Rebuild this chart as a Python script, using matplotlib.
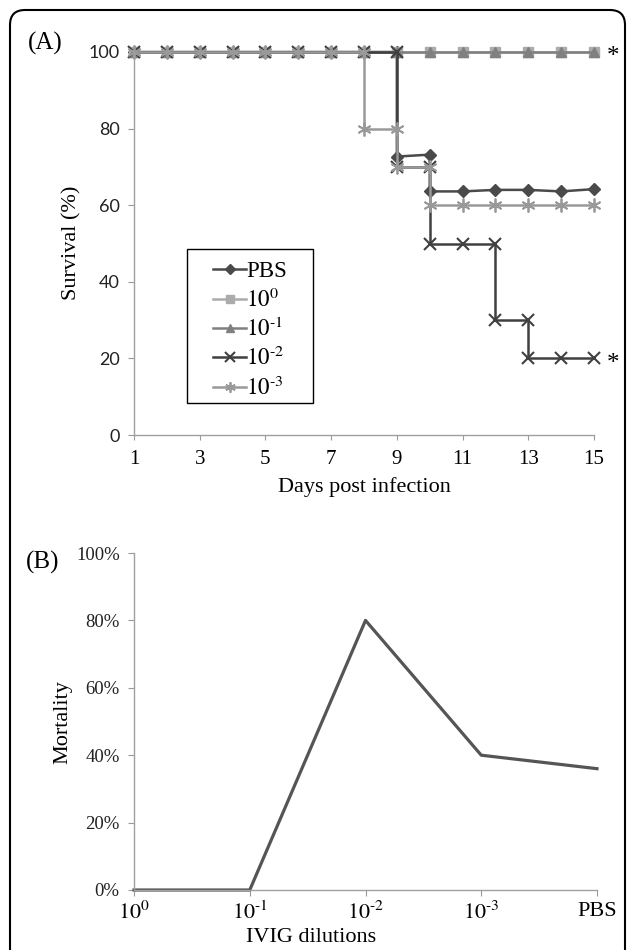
import matplotlib.pyplot as plt
from matplotlib.patches import FancyBboxPatch, Rectangle

plt.rcParams['mathtext.fontset'] = 'stix'
serif = 'Liberation Serif'

# --- data (A) : survie (%) par jour, points en double aux jours de chute ---
days_full = [1, 2, 3, 4, 5, 6, 7, 8, 9, 10, 11, 12, 13, 14, 15]

pbs_days = [1, 2, 3, 4, 5, 6, 7, 8, 9, 9, 10, 10, 11, 12, 13, 14, 15]
pbs_surv = [100, 100, 100, 100, 100, 100, 100, 100, 100, 72.7, 73.2, 63.6, 63.6, 64.0, 64.0, 63.6, 64.2]

d0_surv = [100, 100, 100, 100, 100, 100, 100, 100, 100, 100, 100, 100, 100, 100, 100]
d1_surv = [100, 100, 100, 100, 100, 100, 100, 100, 100, 100, 100, 100, 100, 100, 100]

d2_days = [1, 2, 3, 4, 5, 6, 7, 8, 9, 9, 10, 10, 11, 12, 12, 13, 13, 14, 15]
d2_surv = [100, 100, 100, 100, 100, 100, 100, 100, 100, 70, 70, 50, 50, 50, 30, 30, 20, 20, 20]

d3_days = [1, 2, 3, 4, 5, 6, 7, 8, 8, 9, 9, 10, 10, 11, 12, 13, 14, 15]
d3_surv = [100, 100, 100, 100, 100, 100, 100, 100, 80, 80, 70, 70, 60, 60, 60, 60, 60, 60]

labels = ['PBS', r'$10^{0}$', r'$10^{\text{-}1}$', r'$10^{\text{-}2}$', r'$10^{\text{-}3}$']

# --- data (B) : mortalité ---
dilutions = [r'$10^{0}$', r'$10^{\text{-}1}$', r'$10^{\text{-}2}$', r'$10^{\text{-}3}$', 'PBS']
mortality = [0, 0, 80, 40, 36]

fig = plt.figure(figsize=(6.27, 9.5), dpi=100)
axA = fig.add_axes([134/627, 1-435/950, 460/627, 383/950])
axB = fig.add_axes([134/627, 1-890/950, 463/627, 337/950])

# Panel A
axA.plot(pbs_days, pbs_surv, color='#4a4a4a', lw=1.8, marker='D', ms=6.5, label=labels[0], clip_on=False)
axA.plot(days_full, d0_surv, color='#ababab', lw=1.8, marker='s', ms=7.5, label=labels[1], clip_on=False)
axA.plot(days_full, d1_surv, color='#808080', lw=1.8, marker='^', ms=7, label=labels[2], clip_on=False)
axA.plot(d2_days, d2_surv, color='#404040', lw=1.8, marker='x', ms=9, mew=1.5, label=labels[3], clip_on=False)
axA.plot(d3_days, d3_surv, color='#999999', lw=1.8, marker=(6, 2, 0), ms=10, mew=1.3, label=labels[4], clip_on=False)

axA.annotate('*', (days_full[-1], d1_surv[-1]), xytext=(9, -8), textcoords='offset points',
             va='baseline', fontsize=18, family=serif)
axA.annotate('*', (d2_days[-1], d2_surv[-1]), xytext=(9, -8), textcoords='offset points',
             va='baseline', fontsize=18, family=serif)

axA.set_xlim(1, 15)
axA.set_ylim(0, 100)
axA.set_xticks(range(1, 16, 2))
axA.set_yticks(range(0, 101, 20))
for lab in axA.get_xticklabels():
    lab.set_family(serif)
for lab in axA.get_yticklabels():
    lab.set_family('Lato')
axA.tick_params(axis='x', labelsize=15, length=3.6, pad=7, color='#999999')
axA.tick_params(axis='y', labelsize=13, length=4.3, pad=6, color='#999999', labelcolor='#222222')

# légende sans cadre + cadre dessiné à part
leg = axA.legend(loc='upper left', bbox_to_anchor=(0.172, 0.454), borderaxespad=0,
                 prop={'family': serif, 'size': 16.5}, handlelength=1.45, handletextpad=0.0,
                 labelspacing=0.27, borderpad=0, frameon=False, markerscale=0.75)
fig.add_artist(Rectangle((187/627, 1-403/950), 126/627, 154/950, transform=fig.transFigure,
                         fill=False, ec='black', lw=1.0))

# Panel B
x_pos = list(range(len(dilutions)))
axB.plot(x_pos, mortality, color='#555555', lw=2.3, clip_on=False)
axB.set_xlim(0, len(dilutions) - 1)
axB.set_ylim(0, 100)
axB.set_xticks(x_pos)
axB.set_xticklabels(dilutions, family=serif)
axB.set_yticks(range(0, 101, 20))
axB.set_yticklabels([f'{v}%' for v in range(0, 101, 20)], family=serif)
axB.tick_params(axis='x', labelsize=16, length=4.3, pad=4, color='#999999')
axB.tick_params(axis='y', labelsize=13.5, length=4.3, pad=6, color='#999999', labelcolor='#222222')

for ax in (axA, axB):
    for s in ('top', 'right'):
        ax.spines[s].set_visible(False)
    for s in ('left', 'bottom'):
        ax.spines[s].set_color('#a0a0a0')
        ax.spines[s].set_linewidth(1.0)

# textes
fig.text(45/627, 1-43/950, '(A)', family=serif, fontsize=18, ha='center', va='center')
fig.text(43/627, 1-562/950, '(B)', family=serif, fontsize=18, ha='center', va='center')
fig.text(72/627, 1-243/950, 'Survival (%)', family=serif, fontsize=16, rotation=90, ha='center', va='center')
fig.text(364/627, 1-487/950, 'Days post infection', family=serif, fontsize=16, ha='center', va='center')
fig.text(63/627, 1-722/950, 'Mortality', family=serif, fontsize=16, rotation=90, ha='center', va='center')
fig.text(311/627, 1-938/950, 'IVIG dilutions', family=serif, fontsize=16, ha='center', va='center')

# cadre arrondi
frame = FancyBboxPatch((0.10, -0.2), 6.15, 9.6, boxstyle='round,pad=0,rounding_size=0.15',
                       transform=fig.dpi_scale_trans, fill=False, ec='black', lw=1.5)
fig.add_artist(frame)

fig.savefig('out.png', dpi=100)
